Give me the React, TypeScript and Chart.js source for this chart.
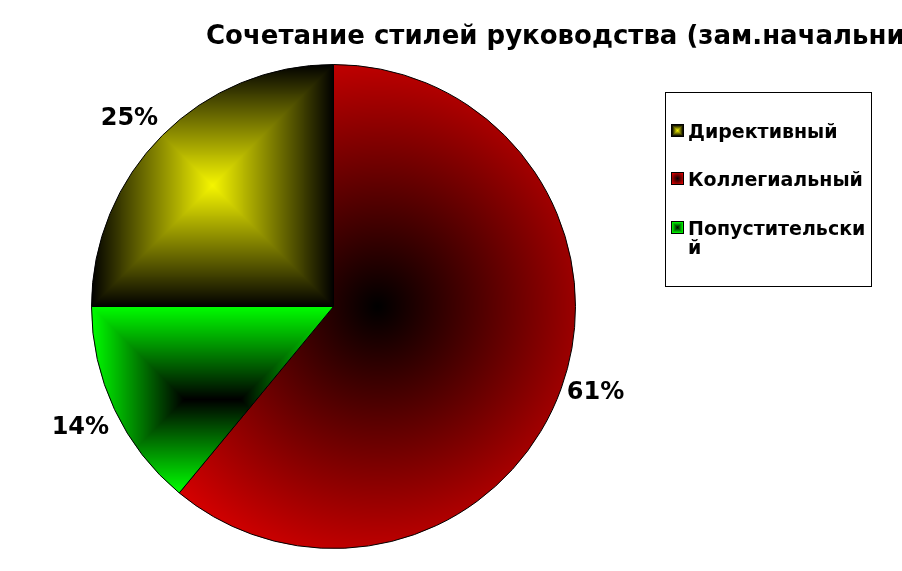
import React, { useEffect, useRef } from "react";
import { Chart, registerables } from "chart.js";

Chart.register(...registerables);

// ---- Data ----
const TITLE = "Сочетание стилей руководства (зам.начальников)";
const categories = ["Директивный", "Коллегиальный", "Попустительский"];
const values = [25, 61, 14];

// ---- Styles ----
type Grad = { kind: "rect" | "radial"; inner: number[]; outer: number[] };
const sliceGradients: Grad[] = [
  { kind: "rect", inner: [245, 245, 0], outer: [0, 0, 0] },
  { kind: "radial", inner: [0, 0, 0], outer: [245, 0, 0] },
  { kind: "rect", inner: [0, 0, 0], outer: [0, 255, 0] },
];
const fallbackColors = ["#999900", "#990000", "#00aa00"];
const FONT = '"DejaVu Sans", "Noto Sans", sans-serif';

function makeGradientCanvas(w: number, h: number, spec: Grad) {
  const c = document.createElement("canvas");
  c.width = Math.max(1, Math.ceil(w));
  c.height = Math.max(1, Math.ceil(h));
  const g = c.getContext("2d")!;
  const img = g.createImageData(c.width, c.height);
  const cx = c.width / 2;
  const cy = c.height / 2;
  const m = Math.min(cx, cy);
  const R = Math.hypot(cx, cy);
  for (let y = 0; y < c.height; y++) {
    for (let x = 0; x < c.width; x++) {
      const px = x + 0.5;
      const py = y + 0.5;
      let t: number;
      if (spec.kind === "rect") {
        t = Math.max(Math.abs(px - cx) - (cx - m), Math.abs(py - cy) - (cy - m)) / m;
      } else {
        t = Math.hypot(px - cx, py - cy) / R;
      }
      t = Math.max(0, Math.min(1, t));
      const k = (y * c.width + x) * 4;
      for (let j = 0; j < 3; j++) {
        img.data[k + j] = Math.round(spec.inner[j] + (spec.outer[j] - spec.inner[j]) * t);
      }
      img.data[k + 3] = 255;
    }
  }
  g.putImageData(img, 0, 0);
  return c;
}

function sectorBox(p: any) {
  const { x, y, startAngle, endAngle, outerRadius: r } = p;
  const pts: number[][] = [
    [x, y],
    [x + r * Math.cos(startAngle), y + r * Math.sin(startAngle)],
    [x + r * Math.cos(endAngle), y + r * Math.sin(endAngle)],
  ];
  const q = Math.PI / 2;
  for (let k = Math.ceil(startAngle / q); k * q <= endAngle; k++) {
    pts.push([x + r * Math.cos(k * q), y + r * Math.sin(k * q)]);
  }
  const xs = pts.map((a) => a[0]);
  const ys = pts.map((a) => a[1]);
  const x0 = Math.floor(Math.min(...xs));
  const y0 = Math.floor(Math.min(...ys));
  const x1 = Math.ceil(Math.max(...xs));
  const y1 = Math.ceil(Math.max(...ys));
  return { x: x0, y: y0, w: x1 - x0, h: y1 - y0 };
}

const gradientPlugin = {
  id: "sliceGradients",
  beforeDatasetsDraw(chart: any) {
    const meta = chart.getDatasetMeta(0);
    meta.data.forEach((arc: any, i: number) => {
      const p = arc.getProps(["x", "y", "startAngle", "endAngle", "outerRadius"], true);
      const b = sectorBox(p);
      const off = makeGradientCanvas(b.w, b.h, sliceGradients[i]);
      const pat = chart.ctx.createPattern(off, "no-repeat");
      pat.setTransform(new DOMMatrix([1, 0, 0, 1, b.x, b.y]));
      arc.options.backgroundColor = pat;
    });
  },
};

function wrapChars(ctx: CanvasRenderingContext2D, text: string, maxW: number) {
  const lines: string[] = [];
  let cur = "";
  for (const ch of text) {
    if (cur && ctx.measureText(cur + ch).width > maxW) {
      lines.push(cur);
      cur = ch;
    } else cur += ch;
  }
  if (cur) lines.push(cur);
  return lines;
}

const decorPlugin = {
  id: "decor",
  afterDatasetsDraw(chart: any) {
    const ctx: CanvasRenderingContext2D = chart.ctx;
    const meta = chart.getDatasetMeta(0);
    const total = values.reduce((a, b) => a + b, 0);
    ctx.save();
    ctx.fillStyle = "#000";
    ctx.font = `bold 24px ${FONT}`;
    ctx.textBaseline = "alphabetic";
    meta.data.forEach((arc: any, i: number) => {
      const p = arc.getProps(["x", "y", "startAngle", "endAngle", "outerRadius"], true);
      const mid = (p.startAngle + p.endAngle) / 2;
      const ar = p.outerRadius + 6;
      const ax = p.x + ar * Math.cos(mid);
      const ay = p.y + ar * Math.sin(mid);
      const label = Math.round((values[i] / total) * 100) + "%";
      const m = ctx.measureText(label);
      const w = m.width;
      const asc = m.fontBoundingBoxAscent ?? 22;
      const desc = m.fontBoundingBoxDescent ?? 6;
      let deg = ((-mid * 180) / Math.PI) % 360;
      if (deg < 0) deg += 360;
      const sector = Math.floor(((deg + 22.5) % 360) / 45); // 0 right,1 right-top,2 top,...
      let left: number, top: number;
      const h = asc + desc;
      if (sector === 0 || sector === 1 || sector === 7) left = ax;
      else if (sector === 3 || sector === 4 || sector === 5) left = ax - w;
      else left = ax - w / 2;
      if (sector === 1 || sector === 2 || sector === 3) top = ay - h;
      else if (sector === 5 || sector === 6 || sector === 7) top = ay;
      else top = ay - h / 2;
      ctx.textAlign = "left";
      ctx.fillText(label, left, top + asc);
    });
    ctx.restore();
  },
  afterDraw(chart: any) {
    const ctx: CanvasRenderingContext2D = chart.ctx;
    ctx.save();
    // Title
    ctx.fillStyle = "#000";
    ctx.font = `bold 26px ${FONT}`;
    ctx.textAlign = "left";
    ctx.textBaseline = "alphabetic";
    ctx.fillText(TITLE, 206, 44);

    // Legend box
    const bx = 665.5, by = 92.5, bw = 206, bh = 194;
    ctx.fillStyle = "#fff";
    ctx.fillRect(bx, by, bw, bh);
    ctx.strokeStyle = "#000";
    ctx.lineWidth = 1;
    ctx.strokeRect(bx, by, bw, bh);

    ctx.font = `bold 19px ${FONT}`;
    const textX = 688;
    const maxW = bx + bw - textX - 2;
    const lineH = 19;
    let baseline = 137.5;
    categories.forEach((cat, i) => {
      const top = Math.round(baseline - 13);
      const sw = makeGradientCanvas(11, 11, sliceGradients[i]);
      ctx.drawImage(sw, 672, top);
      ctx.strokeStyle = "#000";
      ctx.strokeRect(671.5, top - 0.5, 12, 12);
      const lines = wrapChars(ctx, cat, maxW);
      ctx.fillStyle = "#000";
      lines.forEach((ln, j) => ctx.fillText(ln, textX, baseline + j * lineH));
      baseline += (lines.length - 1) * lineH + 48.5;
    });
    ctx.restore();
  },
};

export default function App() {
  const ref = useRef<HTMLCanvasElement | null>(null);
  useEffect(() => {
    if (!ref.current) return;
    const chart = new Chart(ref.current, {
      type: "pie",
      data: {
        labels: categories,
        datasets: [
          {
            data: values,
            backgroundColor: fallbackColors,
            borderColor: "#000",
            borderWidth: 1,
          },
        ],
      },
      options: {
        responsive: false,
        maintainAspectRatio: false,
        animation: false,
        rotation: -90,
        events: [],
        layout: { padding: { left: 91, right: 326, top: 64, bottom: 22 } },
        plugins: {
          legend: { display: false },
          title: { display: false },
          tooltip: { enabled: false },
        },
      } as any,
      plugins: [gradientPlugin, decorPlugin],
    });
    return () => chart.destroy();
  }, []);
  return (
    <div style={{ position: "fixed", left: 0, top: 0, width: 902, height: 571, background: "#fff", overflow: "hidden" }}>
      <canvas ref={ref} width={902} height={571} style={{ display: "block" }} />
    </div>
  );
}
